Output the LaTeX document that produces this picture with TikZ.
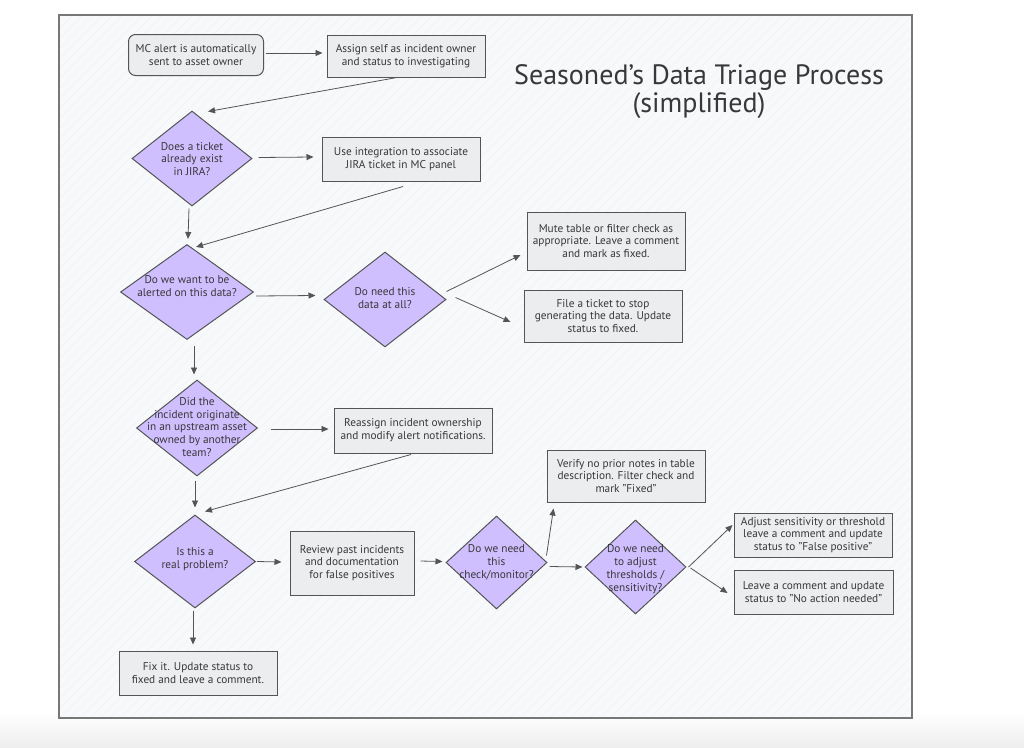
\documentclass[tikz,border=0pt]{standalone}
\usepackage{fontspec}
\setmainfont{PT Sans}
\usetikzlibrary{shapes.geometric,arrows.meta,calc}
\definecolor{ink}{HTML}{383838}
\definecolor{stroke}{HTML}{555555}
\definecolor{boxfill}{HTML}{EBEDEF}
\definecolor{lav}{HTML}{D0BFFF}
\definecolor{paper}{HTML}{F8F9FB}
\definecolor{framec}{HTML}{777777}
\definecolor{stripe}{HTML}{EEF1F5}
\definecolor{outer}{HTML}{EEEEEE}
\begin{document}
\begin{tikzpicture}[x=1pt,y=-1pt,
 box/.style={draw=stroke, fill=boxfill, line width=1pt, inner sep=1pt, align=center, text=ink, font=\fontsize{11.3}{12.8}\selectfont},
 rbox/.style={box, rounded corners=7pt},
 dia/.style={diamond, draw=stroke, fill=lav, line width=1pt, inner sep=0pt},
 dtext/.style={align=center, text=ink, font=\fontsize{11.3}{12.8}\selectfont, inner sep=0pt},
 conn/.style={draw=stroke, line width=0.8pt, -{Triangle[length=7pt,width=6pt]}},
 titlestyle/.style={text=ink, align=center, font=\fontsize{28}{28}\selectfont}]
\useasboundingbox (0,0) rectangle (1024,747);
\fill[white] (0,0) rectangle (1024,747);
\shade[top color=white, bottom color=outer] (0,712) rectangle (1024,747);
\draw[framec, fill=paper, line width=1.2pt] (59,15) rectangle (912,718);
\begin{scope}
\clip (59,15) rectangle (912,718);
\foreach \i in {-700,-690,...,910} \draw[stripe, line width=0.5pt] (\i,718) -- ++(703,-703);
\end{scope}
\draw[framec, line width=1.2pt] (59,15) rectangle (912,718);

\node[titlestyle] (title) at (699,92) {Seasoned's Data Triage Process\\(simplified)};

\node[rbox, minimum width=135pt, minimum height=41pt] (n1) at (196,55) {MC alert is automatically\\sent to asset owner};
\node[box, minimum width=158pt, minimum height=42pt] (n2) at (406,56) {Assign self as incident owner\\and status to investigating};
\node[dia, minimum width=120pt, minimum height=95pt] (d1) at (192,158.5) {};
\node[dtext] (d1t) at (192,159) {Does a ticket\\already exist\\in JIRA?};
\node[box, minimum width=158pt, minimum height=44pt] (n3) at (401,159) {Use integration to associate\\JIRA ticket in MC panel};
\node[dia, minimum width=133pt, minimum height=95pt] (d2) at (187,292) {};
\node[dtext] (d2t) at (187,286) {Do we want to be\\alerted on this data?};
\node[dia, minimum width=122pt, minimum height=95pt] (d3) at (385,299.5) {};
\node[dtext] (d3t) at (385,298) {Do need this\\data at all?};
\node[box, minimum width=158pt, minimum height=58pt] (n4) at (606,241) {Mute table or filter check as\\appropriate. Leave a comment\\and mark as fixed.};
\node[box, minimum width=158pt, minimum height=52pt] (n5) at (603,316) {File a ticket to stop\\generating the data. Update\\status to fixed.};
\node[dia, minimum width=121pt, minimum height=96pt] (d4) at (197,428) {};
\node[dtext] (d4t) at (197,427) {Did the\\incident originate\\in an upstream asset\\owned by another\\team?};
\node[box, minimum width=158pt, minimum height=45pt] (n6) at (413,430.5) {Reassign incident ownership\\and modify alert notifications.};
\node[dia, minimum width=121pt, minimum height=93pt] (d5) at (195,561.5) {};
\node[dtext] (d5t) at (195,559) {Is this a\\real problem?};
\node[box, minimum width=124pt, minimum height=64pt] (n7) at (352,563) {Review past incidents\\and documentation\\for false positives};
\node[dia, minimum width=101pt, minimum height=93pt] (d6) at (496.5,562.5) {};
\node[dtext] (d6t) at (496.5,562) {Do we need\\this\\check/monitor?};
\node[box, minimum width=158pt, minimum height=52pt] (n8) at (626,476) {Verify no prior notes in table\\description. Filter check and\\mark "Fixed"};
\node[dia, minimum width=101pt, minimum height=94pt] (d7) at (635.5,567) {};
\node[dtext] (d7t) at (635.5,569) {Do we need\\to adjust\\thresholds /\\sensitivity?};
\node[box, minimum width=158pt, minimum height=44pt] (n9) at (813,535) {Adjust sensitivity or threshold\\leave a comment and update\\status to "False positive"};
\node[box, minimum width=159pt, minimum height=44pt] (n10) at (813.5,592) {Leave a comment and update\\status to "No action needed"};
\node[box, minimum width=158pt, minimum height=44pt] (n11) at (198,673) {Fix it. Update status to\\fixed and leave a comment.};

\draw[conn] ($(n1.east)+(2,-2)$) -- ($(n2.west)+(-4,-3)$);
\draw[conn] ($(n2.south)+(-9,0)$) -- ($(d1.north)+(16,1)$);
\draw[conn] ($(d1.east)+(6,-1)$) -- ($(n3.west)+(-8,-2)$);
\draw[conn] ($(d1.south)+(-3,2)$) -- ($(d2.north)+(1,-5)$);
\draw[conn] ($(n3.south)+(2,5)$) -- ($(d2.north)+(9,3)$);
\draw[conn] ($(d2.east)+(2,4)$) -- ($(d3.west)+(-8,-4)$);
\draw[conn] ($(d3.east)+(0,-8)$) -- ($(n4.west)+(-6,14)$);
\draw[conn] ($(d3.east)+(9,-2)$) -- ($(n5.west)+(-13,6)$);
\draw[conn] ($(d2.south)+(7,6)$) -- ($(d4.north)+(-3,-5)$);
\draw[conn] ($(d4.east)+(13,1)$) -- ($(n6.west)+(-5,-1.5)$);
\draw[conn] ($(n6.south)+(-2,1)$) -- ($(d5.north)+(10,-3)$);
\draw[conn] ($(d4.south)+(-2,4)$) -- ($(d5.north)+(0,-7)$);
\draw[conn] ($(d5.east)+(1,0)$) -- ($(n7.west)+(-8,-1)$);
\draw[conn] ($(n7.east)+(6,-2)$) -- ($(d6.west)+(-3,-1)$);
\draw[conn] ($(d6.east)+(-1,-7)$) -- ($(n8.south west)+(7,6)$);
\draw[conn] ($(d6.east)+(2,4)$) -- ($(d7.west)+(-2,0)$);
\draw[conn] ($(d7.east)+(2,0)$) -- ($(n9.west)+(-1,-10)$);
\draw[conn] ($(d7.east)+(4,1)$) -- ($(n10.west)+(-6,1)$);
\draw[conn] ($(d5.south)+(-2,2)$) -- ($(n11.north)+(-5,-6)$);
\end{tikzpicture}
\end{document}
